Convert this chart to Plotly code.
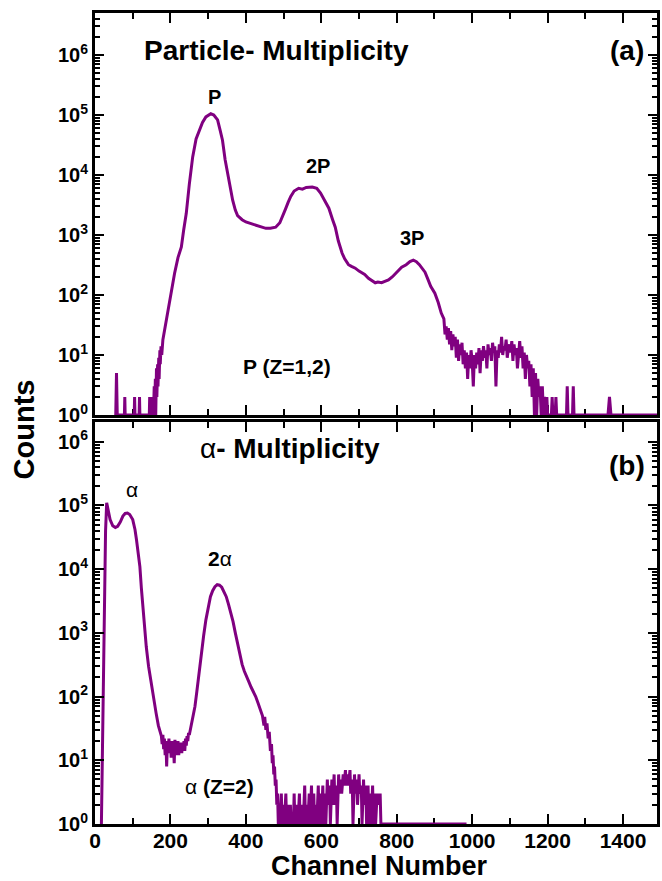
import plotly.graph_objects as go

# ---------------- data ----------------
# Panel (a): Particle multiplicity spectrum
ch_a = [55, 57, 59, 78, 79, 80, 104, 105, 106, 117, 118, 119, 144, 145, 146, 151, 153, 155,
        157, 158, 160, 161, 163, 164, 166, 167, 169, 170, 172, 173, 175, 177,
        180, 190, 198, 205, 211, 220, 229, 235, 242, 250, 259, 268, 277, 285, 294, 300,
        307, 315, 325, 332, 338, 345, 352, 358, 365, 372, 378, 390, 400, 420, 440, 453,
        465, 479, 490, 497, 505, 512, 519, 528, 540, 550, 560, 576, 588, 598, 608, 620,
        630, 637, 645, 655, 662, 672, 680, 690, 700, 707, 715, 725, 735, 743, 750, 760,
        770, 778, 788, 800, 813, 825, 835, 844, 852, 860, 866, 875, 883, 890, 901, 910,
        918, 925, 928, 931, 934, 937, 940, 943, 946, 949, 952, 955, 958, 961, 964, 967,
        970, 973, 976, 979, 982, 985, 988, 991, 994, 997, 1000, 1003, 1006, 1009, 1012,
        1015, 1018, 1021, 1024, 1027, 1030, 1033, 1036, 1039, 1042, 1045, 1048, 1051,
        1054, 1057, 1060, 1063, 1066, 1069, 1072, 1075, 1078, 1081, 1084, 1087, 1090,
        1093, 1096, 1099, 1102, 1105, 1108, 1111, 1114, 1117, 1120, 1123, 1126, 1129,
        1132, 1135, 1138, 1141, 1144, 1147, 1150, 1153, 1156, 1159, 1162, 1165, 1168,
        1171, 1174, 1177, 1180, 1183, 1186, 1189, 1192, 1195, 1198, 1200, 1210, 1212,
        1214, 1220, 1222, 1224, 1250, 1252, 1254, 1266, 1268, 1270, 1360, 1364, 1368, 1490]
cnt_a = [1, 5, 1, 1, 2, 1, 1, 2, 1, 1, 2, 1, 1, 2, 1, 1, 2, 1,
         3, 1, 4, 1, 6, 2, 7, 3, 9, 4, 12, 7, 14, 10,
         18, 40, 83, 150, 230, 420, 630, 1200, 2300, 7000, 20000, 40000, 56000, 75000, 93000, 100000,
         105000, 100000, 83000, 55000, 38000, 18000, 10700, 6000, 3800, 2600, 2100, 1800, 1650, 1500, 1350, 1290,
         1300, 1350, 1600, 2000, 2700, 3500, 4400, 5400, 6000, 5800, 6200, 6300, 6000, 5000, 3800, 2800,
         1800, 1350, 800, 500, 400, 320, 300, 280, 250, 235, 220, 190, 170, 160, 165, 160,
         170, 178, 200, 240, 290, 320, 360, 380, 360, 320, 290, 240, 180, 140, 107, 75,
         50, 40, 22, 30, 18, 28, 15, 25, 12, 22, 14, 20, 9, 18, 8, 15,
         10, 16, 7, 12, 6, 11, 4, 10, 6, 12, 8, 3, 10, 6, 11,
         7, 13, 5, 12, 8, 14, 9, 12, 6, 15, 10, 13, 8,
         16, 11, 14, 3, 12, 9, 15, 11, 20, 10, 14, 12, 18,
         9, 13, 15, 11, 17, 8, 15, 10, 13, 6, 12, 17, 9,
         14, 6, 11, 4, 10, 6, 8, 3, 7, 2, 6, 1, 5,
         1, 4, 2, 3, 1, 3, 1, 2, 1, 2, 1, 1, 2,
         1, 1, 2, 1, 1, 3, 1, 1, 3, 1, 1, 2, 1, 1]

# Panel (b): alpha multiplicity spectrum
ch_b = [17, 20, 24, 28, 31, 34, 40, 47, 54, 60, 67, 74, 80, 86, 92, 100, 106, 110, 115,
        119, 123, 127, 131, 136, 142, 149, 155, 162, 168, 172, 176,
        178, 180, 182, 184, 186, 188, 190, 192, 194, 196, 198, 200, 202, 204, 206, 208,
        210, 212, 214, 216, 218, 220, 222, 224, 226, 228, 230, 232, 234, 236, 238, 240,
        242, 244, 246, 248, 250, 255, 260, 265, 270, 276, 282, 288, 294, 300, 306, 312,
        318, 324, 330, 336, 342, 348, 354, 360, 366, 372, 378, 384, 390, 396, 402, 408,
        414, 420, 426, 432, 438, 444, 448, 450, 453, 456, 459, 462, 465, 468, 470, 472,
        474, 476, 478, 480, 482, 484, 486, 488, 490, 494, 496, 500, 502, 506, 508, 512,
        514, 518, 520, 526, 528, 530, 536, 538, 542, 544, 550, 552, 556, 558, 562, 564,
        568, 570, 574, 576, 580, 582, 586, 588, 592, 594, 598, 600, 604, 606, 610, 612,
        616, 618, 622, 624, 628, 630, 634, 636, 640, 642, 646, 648, 652, 654, 658, 660,
        664, 666, 670, 672, 676, 678, 682, 684, 688, 690, 694, 696, 700, 702, 706, 708,
        712, 714, 718, 720, 724, 726, 730, 732, 736, 738, 742, 744, 748, 752, 756, 758, 985]
cnt_b = [1, 30, 2000, 40000, 110000, 85000, 60000, 48000, 45000, 47000, 55000, 68000, 75000, 76000, 72000, 60000, 42000, 29000, 17000,
         11000, 5000, 2500, 1200, 600, 300, 160, 100, 55, 35, 30, 24,
         18, 25, 15, 22, 12, 20, 8, 19, 14, 22, 13, 18, 11, 20, 15, 17,
         9, 21, 12, 18, 13, 20, 12, 17, 14, 19, 13, 18, 15, 20, 14, 22,
         17, 24, 20, 27, 25, 35, 50, 70, 120, 250, 480, 900, 1600, 2600, 3700, 4600,
         5300, 5700, 5600, 5200, 4500, 3700, 2800, 2100, 1500, 1000, 700, 450, 320, 250, 200, 170,
         140, 120, 100, 80, 65, 50, 35, 48, 30, 38, 22, 28, 14, 18, 9, 12,
         6, 8, 4, 5, 2, 3, 1, 2, 1, 3, 1, 2, 1, 3, 1, 2,
         1, 2, 1, 1, 3, 1, 2, 1, 3, 1, 2, 1, 4, 1, 2, 1,
         3, 1, 4, 1, 3, 1, 2, 1, 4, 1, 3, 1, 4, 1, 3, 1,
         5, 2, 4, 1, 5, 2, 6, 2, 4, 1, 6, 3, 5, 3, 6, 4,
         7, 4, 6, 4, 7, 3, 5, 1, 6, 3, 5, 2, 6, 3, 4, 1,
         5, 2, 4, 1, 4, 1, 3, 1, 4, 1, 3, 1, 3, 2, 3, 1, 1]

y_tick_vals = [1, 10, 100, 1000, 10000, 100000, 1000000]
y_tick_text = ["10<sup>0</sup>", "10<sup>1</sup>", "10<sup>2</sup>", "10<sup>3</sup>",
               "10<sup>4</sup>", "10<sup>5</sup>", "10<sup>6</sup>"]
x_tick_vals = [0, 200, 400, 600, 800, 1000, 1200, 1400]
x_tick_text = ["0", "200", "400", "600", "800", "1000", "1200", "1400"]
minor_log = [m * 10 ** k for k in range(7) for m in range(2, 10)]

# ---------------- figure ----------------
FONT = "Liberation Sans, Arial, sans-serif"
PURPLE = "#800080"
W, H = 662, 881
L, R, T, B = 95, 2, 13, 57


def pxx(x):
    return (x - L) / (W - L - R)


def pxy(y):
    return (H - B - y) / (H - T - B)


fig = go.Figure()
fig.add_trace(go.Scatter(x=ch_a, y=cnt_a, mode="lines", line=dict(color=PURPLE, width=3),
                         xaxis="x", yaxis="y", showlegend=False))
fig.add_trace(go.Scatter(x=ch_b, y=cnt_b, mode="lines", line=dict(color=PURPLE, width=3),
                         xaxis="x2", yaxis="y2", showlegend=False))

common_x = dict(range=[0, 1490], tickmode="array", tickvals=x_tick_vals, ticktext=x_tick_text,
                ticks="inside", ticklen=10, tickwidth=2, tickcolor="black",
                minor=dict(tickvals=[100, 300, 500, 700, 900, 1100, 1300], ticks="inside",
                           ticklen=6, tickwidth=2, tickcolor="black"),
                showline=True, linecolor="black", linewidth=3, mirror="allticks",
                showgrid=False, zeroline=False, layer="below traces",
                ticklabelstandoff=-4,
                tickfont=dict(family=FONT, size=21, color="black", weight="bold"))
common_y = dict(type="log", tickmode="array", tickvals=y_tick_vals, ticktext=y_tick_text,
                ticks="inside", ticklen=9, tickwidth=2, tickcolor="black",
                minor=dict(tickvals=minor_log, ticks="inside", ticklen=5, tickwidth=1.5,
                           tickcolor="black"),
                showline=True, linecolor="black", linewidth=3, mirror="allticks",
                showgrid=False, zeroline=False,
                tickfont=dict(family=FONT, size=20, color="black", weight="bold"))

fig.update_layout(
    width=W, height=H,
    margin=dict(l=L, r=R, t=T, b=B),
    paper_bgcolor="white", plot_bgcolor="white",
    xaxis=dict(common_x, anchor="y", showticklabels=False),
    yaxis=dict(common_y, range=[0, 6.7], domain=[pxy(415), 1]),
    xaxis2=dict(common_x, anchor="y2", showticklabels=True),
    yaxis2=dict(common_y, range=[0, 6.31], domain=[0, pxy(422)]),
)


def ann(text, x, y, size, weight="bold", angle=0):
    fig.add_annotation(text=text, x=pxx(x), y=pxy(y), xref="paper", yref="paper",
                       showarrow=False, textangle=angle, xanchor="center", yanchor="middle",
                       borderpad=0, borderwidth=0,
                       font=dict(family=FONT, size=size, color="black", weight=weight))


ann("Particle- Multiplicity", 277, 50, 28)
ann("(a)", 630, 51, 28)
ann("P", 215, 97, 20)
ann("2P", 319, 166, 20)
ann("3P", 414, 238, 20)
ann("P (Z=1,2)", 288, 367, 21)
ann("α<b>- Multiplicity</b>", 291, 448, 28, weight="normal")
ann("(b)", 630, 465, 28)
ann("α", 132, 490, 21, weight="normal")
ann("<b>2</b>α", 221, 558, 21, weight="normal")
ann("α <b>(Z=2)</b>", 220, 786, 21, weight="normal")
ann("Counts", 24, 429, 29, angle=-90)
ann("Channel Number", 381, 866, 27)

fig.write_html("out.html")
